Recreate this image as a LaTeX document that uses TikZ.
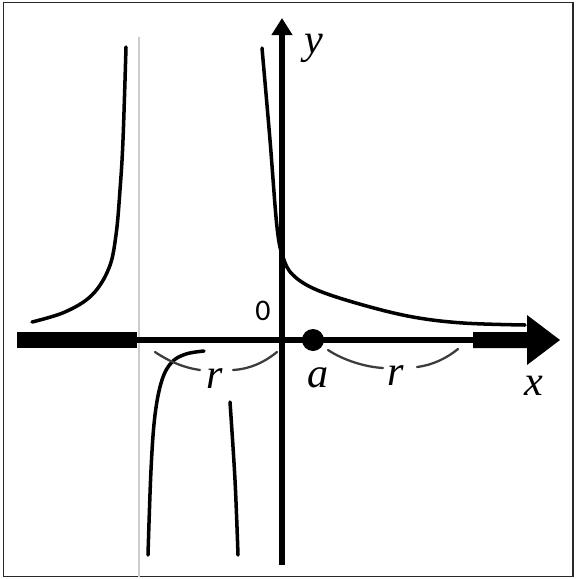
\documentclass[tikz,border=0pt]{standalone}
\usepackage{fontspec}
\setmainfont{Liberation Serif}
\newfontfamily\digitfont{Carlito}
\usetikzlibrary{arrows.meta}
\definecolor{framegray}{RGB}{40,40,40}
\definecolor{asymgray}{RGB}{205,205,205}
\definecolor{arcgray}{RGB}{60,60,60}

\begin{document}
\begin{tikzpicture}[
    x=0.02cm, y=-0.02cm,
    curve/.style={line width=2pt, line cap=round},
    axis/.style={line width=3pt},
    span/.style={draw=arcgray, line width=1.3pt, line cap=round},
    varlabel/.style={anchor=base, inner sep=0pt,
        font=\fontsize{24}{24}\selectfont\itshape}
]
\useasboundingbox (0,0) rectangle (576,579);
\draw[framegray, line width=1pt] (3.5,2.5) rectangle (573,576.5);

% asymptote
\draw[asymgray, line width=0.6pt] (139,37) -- (139,576.5);

% axes
\coordinate (xl) at (137,340);
\coordinate (xr) at (480,340);
\coordinate (ybot) at (282,565);
\coordinate (ytop) at (282,18);
\draw[axis] (xl) -- (xr);
\fill (17,332) rectangle (137,348);
\fill (473,332) -- (527,332) -- (527,315) -- (560,340)
    -- (527,365) -- (527,348) -- (473,348) -- cycle;
\draw[axis, -{Triangle[length=3.4mm, width=4mm]}] (ybot) -- (ytop);

% branches
\draw[curve] plot[smooth, tension=0.6] coordinates {
    (126,47) (123,140) (120,190) (116,235) (109,268)
    (92,295) (65,312) (32,322)};
\draw[curve] plot[smooth, tension=0.6] coordinates {
    (262,48) (270,140) (277,227) (283,257) (293,275)
    (317,290) (363,305) (413,317) (463,323) (525,325)};
\draw[curve] plot[smooth, tension=0.6] coordinates {
    (148,555) (151,470) (155,415) (162,380) (172,362)
    (186,354) (204,351)};
\draw[curve] plot[smooth, tension=0.6] coordinates {
    (230,402) (235,480) (238,555)};

% point a
\node[circle, fill, inner sep=0pt, minimum size=4.4mm] (apoint) at (313,340) {};

% spans of width r
\draw[span] (155,352) .. controls (170,362) and (185,368) .. (200,370);
\draw[span] (233,370) .. controls (250,369) and (265,362) .. (277,352);
\draw[span] (328,350) .. controls (343,360) and (365,367) .. (383,368);
\draw[span] (417,367) .. controls (433,365) and (447,358) .. (458,349);

% labels
\node[varlabel] (ylabel) at (314,53) {y};
\node[varlabel] (xlabel) at (534,395) {x};
\node[varlabel] (alabel) at (318,387) {a};
\foreach \n/\x/\y in {rleft/215/388, rright/396/385}{
    \node[varlabel] (\n) at (\x,\y) {r};
}
\node[anchor=base, inner sep=0pt, font=\digitfont\fontsize{17}{17}\selectfont]
    (origin) at (263,320) {0};
\end{tikzpicture}
\end{document}
